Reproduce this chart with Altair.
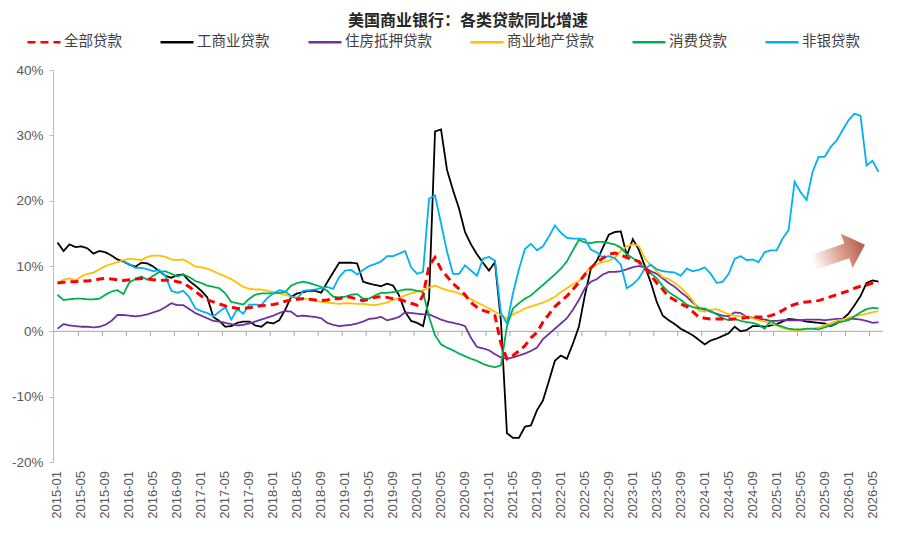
import pandas as pd
import altair as alt

months = pd.date_range("2015-01-01", periods=138, freq="MS").strftime("%Y-%m").tolist()

tick_labels = ["2015-01", "2015-05", "2015-09", "2016-01", "2016-05", "2016-09",
               "2017-01", "2017-05", "2017-09", "2018-01", "2018-05", "2018-09",
               "2019-01", "2019-05", "2019-09", "2020-01", "2020-05", "2020-09",
               "2021-01", "2021-05", "2021-09", "2022-01", "2022-05", "2022-09",
               "2023-01", "2023-05", "2023-09", "2024-01", "2024-05", "2024-09",
               "2025-01", "2025-05", "2025-09", "2026-01", "2026-05"]

series_names = ["全部贷款", "工商业贷款", "住房抵押贷款", "商业地产贷款", "消费贷款", "非银贷款"]
series_colors = ["#FF0000", "#000000", "#7030A0", "#FFC000", "#00B050", "#00B0F0"]

total = [7.4, 7.5, 7.6, 7.6, 7.7, 7.7, 7.8, 8.0, 8.1, 8.0,
         7.9, 7.8, 7.9, 8.0, 8.1, 8.0, 7.9, 7.8, 7.8, 7.8,
         7.6, 7.4, 6.8, 6.1, 5.4, 4.8, 4.5, 4.2, 3.9, 3.7,
         3.5, 3.5, 3.6, 3.8, 3.9, 4.0, 4.1, 4.3, 4.6, 4.8,
         4.9, 5.0, 4.9, 4.8, 4.7, 4.8, 5.0, 5.0, 5.3, 5.2,
         4.9, 4.7, 4.9, 5.2, 5.3, 5.2, 5.0, 4.9, 4.6, 4.3,
         4.0, 5.5, 10.0, 11.3, 9.5, 8.4, 7.3, 6.5, 5.6, 4.4,
         3.7, 3.2, 2.9, 2.4, -1.9, -4.2, -3.7, -3.0, -2.2, -1.0,
         -0.2, 1.4, 2.6, 3.8, 4.6, 5.4, 6.4, 7.5, 8.7, 9.7,
         10.6, 11.2, 11.8, 12.0, 11.7, 11.3, 11.0, 10.7, 9.7, 8.6,
         7.4, 6.4, 5.3, 4.8, 4.2, 3.8, 3.0, 2.2, 2.0, 1.9,
         1.9, 1.9, 1.9, 1.9, 2.0, 2.1, 2.2, 2.2, 2.2, 2.4,
         2.7, 3.2, 3.8, 4.1, 4.4, 4.5, 4.6, 4.7, 5.0, 5.3,
         5.6, 5.9, 6.2, 6.6, 6.9, 7.1, 7.4, 7.3]

cni = [13.6, 12.3, 13.3, 12.9, 13.0, 12.7, 11.9, 12.3, 12.1, 11.6,
       11.0, 10.7, 10.2, 9.9, 10.5, 10.4, 9.9, 9.2, 8.5, 8.2,
       8.6, 8.7, 7.7, 7.0, 6.2, 5.2, 2.2, 1.6, 0.7, 0.8,
       1.3, 1.5, 1.5, 0.9, 0.7, 1.4, 1.2, 1.7, 3.3, 5.3,
       5.8, 6.0, 6.2, 6.2, 5.9, 7.5, 9.0, 10.5, 10.5, 10.5,
       10.4, 7.6, 7.3, 7.1, 6.9, 7.3, 7.0, 5.5, 3.0, 1.6,
       1.3, 0.8, 5.0, 30.6, 30.9, 24.7, 21.6, 18.8, 15.2, 13.3,
       11.8, 10.5, 9.3, 10.6, 1.5, -15.6, -16.3, -16.3, -14.6, -14.4,
       -12.1, -10.6, -7.6, -4.5, -3.7, -4.2, -1.9, 0.7, 5.5, 9.6,
       10.8, 12.8, 14.8, 15.2, 15.3, 11.6, 14.1, 12.5, 10.0, 7.5,
       4.5, 2.4, 1.7, 1.1, 0.4, -0.1, -0.6, -1.3, -2.0, -1.4,
       -1.1, -0.7, -0.3, 0.7, 0.0, 0.2, 0.8, 0.8, 0.7, 0.9,
       1.1, 1.5, 1.9, 1.8, 1.7, 1.5, 1.4, 1.3, 1.2, 0.8,
       1.2, 1.9, 2.7, 4.0, 5.4, 7.4, 7.8, 7.6]

mortgage = [0.4, 1.1, 0.9, 0.8, 0.7, 0.7, 0.6, 0.7, 1.0, 1.6,
            2.5, 2.5, 2.4, 2.3, 2.4, 2.6, 2.9, 3.2, 3.7, 4.3,
            4.0, 4.0, 3.4, 2.8, 2.4, 2.0, 1.6, 1.5, 1.3, 1.1,
            0.9, 1.0, 1.2, 1.5, 1.8, 2.1, 2.4, 2.8, 3.1, 3.0,
            2.3, 2.4, 2.3, 2.2, 2.0, 1.3, 1.0, 0.8, 0.9, 1.0,
            1.2, 1.5, 1.9, 2.0, 2.2, 1.7, 1.9, 2.2, 2.9, 2.8,
            2.7, 2.6, 2.6, 2.2, 1.8, 1.5, 1.3, 1.1, 0.8, -1.0,
            -2.4, -2.6, -2.9, -3.5, -4.0, -4.2, -4.0, -3.7, -3.4, -3.0,
            -2.5, -1.2, -0.4, 0.4, 1.2, 2.0, 3.3, 4.8, 6.6, 7.6,
            8.0, 8.7, 9.1, 9.1, 9.2, 9.5, 9.8, 10.0, 9.8, 9.2,
            8.8, 8.1, 7.4, 6.8, 6.0, 5.3, 4.4, 3.6, 3.3, 3.0,
            2.7, 2.4, 2.3, 2.9, 2.8, 2.2, 2.1, 1.9, 1.8, 1.6,
            1.6, 1.7, 1.7, 1.7, 1.7, 1.8, 1.8, 1.8, 1.7, 1.8,
            1.9, 1.9, 1.9, 1.9, 1.8, 1.6, 1.3, 1.4]

cre = [7.4, 7.9, 8.1, 7.8, 8.4, 8.8, 9.0, 9.5, 10.0, 10.3,
       10.6, 10.9, 11.1, 11.0, 10.9, 11.4, 11.6, 11.6, 11.4, 11.0,
       10.9, 11.0, 10.5, 9.9, 9.8, 9.6, 9.2, 8.8, 8.4, 8.0,
       7.4, 6.8, 6.5, 6.4, 6.4, 6.2, 6.0, 5.8, 5.6, 5.3,
       5.2, 5.0, 4.9, 4.7, 4.5, 4.4, 4.3, 4.2, 4.3, 4.3,
       4.2, 4.2, 4.1, 4.0, 4.2, 4.4, 4.8, 5.1, 5.5, 5.8,
       6.1, 6.3, 6.7, 7.0, 6.6, 6.3, 6.1, 5.8, 5.4, 4.9,
       4.4, 4.0, 3.5, 3.0, 2.5, 1.9, 2.6, 3.0, 3.5, 3.8,
       4.1, 4.4, 4.8, 5.3, 6.0, 6.6, 7.2, 7.7, 8.8, 9.8,
       10.3, 10.6, 10.8, 11.3, 12.3, 13.0, 13.3, 13.1, 11.2, 10.1,
       9.2, 8.3, 8.0, 7.4, 6.7, 5.8, 4.7, 3.2, 3.0, 3.3,
       3.4, 3.0, 2.6, 2.4, 2.3, 2.2, 2.0, 1.7, 1.5, 1.2,
       0.9, 0.5, 0.3, 0.2, 0.2, 0.3, 0.4, 0.6, 0.9, 1.2,
       1.6, 1.8, 2.1, 2.3, 2.5, 2.7, 2.9, 3.1]

consumer = [5.6, 4.8, 4.9, 5.0, 5.0, 4.9, 4.9, 5.0, 5.6, 6.1,
            6.3, 5.7, 7.5, 8.0, 8.4, 7.9, 8.5, 9.1, 9.2, 8.8,
            8.4, 8.7, 8.3, 7.7, 7.4, 7.0, 6.8, 6.6, 5.8, 4.5,
            4.3, 4.1, 5.0, 5.6, 5.8, 5.8, 5.8, 5.9, 6.0, 7.0,
            7.4, 7.6, 7.4, 7.1, 6.8, 6.2, 5.3, 5.2, 5.3, 5.6,
            5.7, 5.0, 5.0, 5.5, 5.9, 5.9, 6.0, 6.2, 6.4, 6.4,
            6.2, 6.0, 2.2, -0.6, -2.0, -2.5, -2.9, -3.4, -3.8, -4.2,
            -4.5, -5.0, -5.3, -5.5, -5.2, 0.8, 3.5, 4.3, 5.0, 5.5,
            6.3, 7.1, 7.9, 8.7, 9.6, 10.7, 12.4, 14.0, 13.6, 13.5,
            13.7, 13.7, 13.5, 13.3, 12.8, 11.8, 11.2, 10.5, 9.7, 8.9,
            8.1, 6.9, 6.0, 5.4, 4.8, 4.1, 3.7, 3.5, 3.5, 3.1,
            2.6, 2.0, 1.7, 1.9, 1.6, 1.4, 1.3, 1.0, 0.4, 1.6,
            1.0, 0.7, 0.4, 0.3, 0.3, 0.4, 0.4, 0.3, 0.6, 0.9,
            1.3, 1.5, 1.7, 2.3, 2.9, 3.4, 3.6, 3.5]

nonbank = [None, None, None, None, None, None, None, None, None, None,
           None, 10.7, 10.3, 9.7, 9.7, 9.5, 9.2, 9.4, 8.5, 6.2,
           5.9, 6.2, 5.2, 3.5, 3.1, 2.8, 2.3, 3.0, 3.7, 1.8,
           3.4, 2.7, 4.1, 4.1, 4.0, 5.1, 5.8, 6.3, 6.1, 5.4,
           5.0, 6.2, 6.3, 6.4, 6.6, 6.8, 6.5, 8.3, 9.3, 9.4,
           8.7, 9.4, 10.0, 10.3, 10.7, 11.5, 11.5, 11.9, 12.3, 9.8,
           8.8, 9.1, 20.3, 20.8, 16.5, 12.2, 8.8, 8.8, 10.1, 9.3,
           8.5, 11.1, 11.4, 10.8, 2.8, 1.2, 5.8, 9.5, 12.6, 13.4,
           12.4, 13.0, 14.5, 16.2, 15.1, 14.3, 14.2, 14.2, 14.1, 12.5,
           12.1, 11.3, 11.5, 11.2, 10.2, 6.6, 7.2, 8.1, 9.6, 10.2,
           9.5, 9.2, 9.1, 9.0, 8.5, 9.6, 9.2, 9.4, 9.8, 8.8,
           7.4, 7.6, 8.8, 11.1, 11.5, 10.9, 11.0, 10.6, 12.1, 12.4,
           12.4, 14.2, 15.5, 22.9, 21.3, 20.1, 24.4, 26.7, 26.7, 28.2,
           29.2, 30.8, 32.3, 33.3, 33.0, 25.4, 26.1, 24.4]

all_series = [total, cni, mortgage, cre, consumer, nonbank]

rows = []
for name, vals in zip(series_names, all_series):
    for i, v in enumerate(vals):
        if v is not None:
            rows.append({"idx": i, "month": months[i], "series": name, "value": v})
df = pd.DataFrame(rows)

n = len(months)
plot_h = 392
xscale = alt.Scale(domain=[-0.75, n - 0.25], nice=False, zero=False)
yscale = alt.Scale(domain=[-20, 40], nice=False, zero=False)

y_axis = alt.Axis(values=[-20, -10, 0, 10, 20, 30, 40], labelExpr="datum.value + '%'",
                  domainColor="#BFBFBF", tickColor="#BFBFBF", tickSize=4, grid=False,
                  title=None, labelPadding=6, labelFont="Liberation Sans",
                  labelFontSize=13.5, labelColor="#595959")

X = alt.X("idx:Q", scale=xscale, axis=None)
Y = alt.Y("value:Q", scale=yscale, axis=y_axis)

color_enc = alt.Color("series:N", title=None,
                      scale=alt.Scale(domain=series_names, range=series_colors))
dash_enc = alt.StrokeDash("series:N", title=None,
                          scale=alt.Scale(domain=series_names,
                                          range=[[8, 5], [1, 0], [1, 0], [1, 0], [1, 0], [1, 0]]))

base = alt.Chart(df)

zero_line = alt.Chart(pd.DataFrame({"value": [0]})).mark_rule(color="#A6A6A6", strokeWidth=1).encode(
    y=Y)

tick_pos = pd.DataFrame({"idx": [k + 3.5 for k in range(0, n - 3, 4)]})
zero_ticks = alt.Chart(tick_pos).mark_rule(color="#A6A6A6", strokeWidth=1).encode(
    x=X,
    y=alt.datum(0),
    y2=alt.datum(-0.75))

xlab_df = pd.DataFrame({"idx": list(range(0, n, 4)), "label": tick_labels})
x_labels = alt.Chart(xlab_df).mark_text(
    angle=270, align="right", baseline="middle", font="Liberation Sans",
    fontSize=13, color="#595959"
).encode(x=X, y=alt.value(plot_h + 9), text="label:N")

solid = base.transform_filter(alt.datum.series != "全部贷款").mark_line(strokeWidth=1.8).encode(
    x=X, y=Y, color=color_enc, strokeDash=dash_enc, detail="series:N")

dashed = base.transform_filter(alt.datum.series == "全部贷款").mark_line(strokeWidth=3).encode(
    x=X, y=Y, color=color_enc, strokeDash=dash_enc)

arrow_path = "M-1,-0.28L0.3,-0.28L0.3,-0.66L1,0L0.3,0.66L0.3,0.28L-1,0.28Z"
arrow = alt.Chart(pd.DataFrame({"a": [0]})).mark_point(
    shape=arrow_path, filled=True, size=3025, angle=341, opacity=1, strokeOpacity=0,
    fill=alt.Gradient(gradient="linear", x1=0, y1=0, x2=1, y2=0,
                      stops=[alt.GradientStop(color="#FFFFFF", offset=0),
                             alt.GradientStop(color="#E3ADA1", offset=0.45),
                             alt.GradientStop(color="#B35746", offset=1)])
).encode(x=alt.datum(130.4), y=alt.datum(11.9))

chart = alt.layer(zero_line, zero_ticks, x_labels, solid, dashed, arrow).properties(
    width=830, height=plot_h,
    title=alt.TitleParams(text="美国商业银行：各类贷款同比增速", font="Noto Sans CJK SC",
                          fontSize=16, fontWeight="bold", color="#262626",
                          anchor="middle", offset=0, dy=5),
    autosize=alt.AutoSizeParams(type="none"),
    padding={"left": 45, "top": 62, "right": 9, "bottom": 63},
).configure_view(stroke=None).configure_legend(
    orient="none", legendX=-27, legendY=-46, direction="horizontal",
    columnPadding=33, symbolType="stroke", symbolSize=1089, symbolStrokeWidth=2.5,
    labelFont="Noto Sans CJK SC", labelFontSize=14.5, labelColor="#404040",
    labelOffset=2, padding=0, labelLimit=300
)

chart.save("out.html", embed_options={"renderer": "svg", "actions": False})
